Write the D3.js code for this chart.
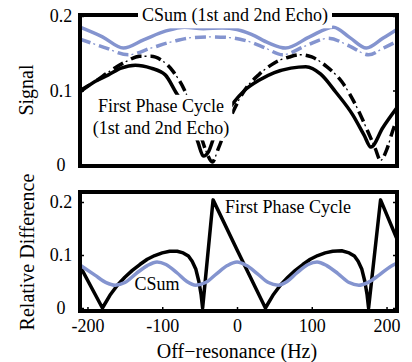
<!DOCTYPE html>
<html>
<head>
<meta charset="UTF-8">
<style>
  body { margin: 0; background: #fff; }
  text { font-family: "Liberation Serif"; }
</style>
</head>
<body>
<script src="https://d3js.org/d3.v7.min.js"></script>
<script>
// ---- data ----
const hzTicks = [-200, -100, 0, 100, 200];
const signalTicks = [0, 0.1, 0.2];
const diffTicks = [0, 0.1, 0.2];

// top panel: CSum, 1st echo (solid) and 2nd echo (dash-dot)
const csum1Hz = [-210, -180, -152, -125, -95, -70, -45, -20, 0, 20, 42, 65, 97, 129, 151, 173, 195, 214];
const csumEcho1 = [0.185, 0.172, 0.157, 0.168, 0.180, 0.185, 0.183, 0.184, 0.182, 0.175, 0.164, 0.157, 0.172, 0.185, 0.171, 0.157, 0.170, 0.182];
const csum2Hz = [-210, -178, -145, -115, -85, -60, -35, -10, 15, 38, 61, 92, 122, 150, 176, 196, 214];
const csumEcho2 = [0.169, 0.158, 0.148, 0.157, 0.166, 0.171, 0.172, 0.171, 0.166, 0.157, 0.148, 0.160, 0.170, 0.160, 0.148, 0.157, 0.166];

// top panel: first phase cycle, 1st echo (solid)
const fpc1Hz = [-210, -190, -172, -155, -136, -115, -96, -82, -70, -60, -52, -45, -38, -30, -20, -6, 10, 30, 50, 72, 92, 112, 132, 155, 170, 179, 195, 214];
const fpcEcho1 = [0.098, 0.112, 0.121, 0.130, 0.134, 0.130, 0.121, 0.098, 0.078, 0.055, 0.030, 0.012, 0.018, 0.040, 0.062, 0.082, 0.100, 0.114, 0.124, 0.130, 0.132, 0.122, 0.098, 0.067, 0.040, 0.024, 0.050, 0.077];
// top panel: first phase cycle, 2nd echo (dash-dot)
const fpc2Hz = [-210, -190, -170, -150, -130, -115, -100, -85, -70, -58, -48, -40, -33, -25, -15, -5, 10, 30, 50, 70, 85, 100, 120, 140, 160, 175, 185, 192, 200, 208, 214];
const fpcEcho2 = [0.100, 0.112, 0.126, 0.138, 0.146, 0.146, 0.140, 0.125, 0.100, 0.070, 0.038, 0.015, 0.004, 0.022, 0.048, 0.072, 0.100, 0.122, 0.137, 0.145, 0.148, 0.145, 0.132, 0.112, 0.078, 0.045, 0.022, 0.006, 0.020, 0.045, 0.062];

// bottom panel: relative difference between echoes
const csumDiffHz = [-210, -190, -175, -163, -150, -135, -120, -107, -95, -80, -67, -55, -42, -27, -13, 0, 13, 27, 42, 55, 67, 80, 95, 107, 120, 135, 150, 163, 175, 190, 205, 214];
const csumDiff = [0.081, 0.062, 0.048, 0.043, 0.048, 0.065, 0.080, 0.087, 0.082, 0.066, 0.050, 0.043, 0.048, 0.065, 0.080, 0.087, 0.080, 0.065, 0.048, 0.043, 0.050, 0.066, 0.082, 0.087, 0.080, 0.065, 0.048, 0.043, 0.048, 0.062, 0.078, 0.085];
const fpcDiffHz = [-210, -180, -170, -160, -150, -140, -130, -120, -110, -100, -90, -80, -72, -65, -60, -55, -51, -48, -46, -32, 0, 38, 48, 58, 68, 78, 88, 98, 108, 118, 128, 140, 150, 157, 162, 167, 171, 174, 176, 192, 214];
const fpcDiff = [0.079, 0, 0.024, 0.043, 0.058, 0.071, 0.082, 0.092, 0.099, 0.104, 0.107, 0.107, 0.104, 0.098, 0.088, 0.073, 0.050, 0.025, 0, 0.204, 0.110, 0, 0.024, 0.043, 0.058, 0.071, 0.082, 0.092, 0.099, 0.104, 0.107, 0.108, 0.104, 0.098, 0.088, 0.073, 0.050, 0.025, 0, 0.204, 0.130];

// ---- layout ----
const W = 412, H = 362;
const blue = "#8494cf";
const FONT = "Liberation Serif";
const left = 80, right = 397;
const top1 = 15, bottom1 = 166;
const top2 = 192, bottom2 = 311;

const x = d3.scaleLinear().domain([-210, 214]).range([left, right]);
const y1 = d3.scaleLinear().domain([0, 0.2]).range([165, 16]);
const y2 = d3.scaleLinear().domain([0, 0.2]).range([308, 202]);

const svg = d3.select("body").append("svg")
  .attr("width", W)
  .attr("height", H);

const defs = svg.append("defs");
defs.append("clipPath").attr("id", "clip1")
  .append("rect").attr("x", left).attr("y", top1).attr("width", right - left).attr("height", bottom1 - top1);
defs.append("clipPath").attr("id", "clip2")
  .append("rect").attr("x", left).attr("y", top2).attr("width", right - left).attr("height", bottom2 - top2);

function pairs(hz, vals) {
  return hz.map((h, i) => [h, vals[i]]);
}

function setFont(sel, size) {
  sel.attr("font-family", FONT)
    .style("font-family", `"${FONT}"`)
    .style("font-size", size + "px")
    .attr("fill", "#000");
}

function drawSolid(g, data, yScale, color, curve) {
  g.append("path")
    .datum(data)
    .attr("fill", "none")
    .attr("stroke", color)
    .attr("stroke-width", 3.5)
    .attr("stroke-linejoin", "round")
    .attr("d", d3.line().x(d => x(d[0])).y(d => yScale(d[1])).curve(curve));
}

// dash-dot: thick dashes plus a thin tick in each gap
function drawDashDot(g, data, yScale, color, curve) {
  const line = d3.line().x(d => x(d[0])).y(d => yScale(d[1])).curve(curve);
  g.append("path")
    .datum(data)
    .attr("fill", "none")
    .attr("stroke", color)
    .attr("stroke-width", 3.5)
    .attr("stroke-dasharray", "11,9")
    .attr("d", line);
  g.append("path")
    .datum(data)
    .attr("fill", "none")
    .attr("stroke", color)
    .attr("stroke-width", 1.3)
    .attr("stroke-dasharray", "0,14,2,4")
    .attr("d", line);
}

function labelBox(tx, ty, lines, size, pad) {
  const grp = svg.append("g");
  const bg = grp.append("rect").attr("fill", "#fff");
  const t = grp.append("text")
    .attr("x", tx)
    .attr("y", ty)
    .attr("text-anchor", "middle");
  setFont(t, size);
  lines.forEach((s, i) => {
    t.append("tspan").attr("x", tx).attr("dy", i === 0 ? "0.35em" : "1.2em").text(s);
  });
  const b = t.node().getBBox();
  bg.attr("x", b.x - pad).attr("y", b.y - pad / 2)
    .attr("width", b.width + 2 * pad).attr("height", b.height + pad);
}

function frame(top, bottom) {
  svg.append("rect")
    .attr("x", left).attr("y", top)
    .attr("width", right - left).attr("height", bottom - top)
    .attr("fill", "none")
    .attr("stroke", "#000")
    .attr("stroke-width", 4);
}

function yAxis(yScale, ticks) {
  const g = svg.append("g")
    .attr("transform", `translate(${left},0)`)
    .call(d3.axisLeft(yScale).tickValues(ticks).tickFormat(d3.format("")).tickSize(-4).tickPadding(0));
  g.attr("font-family", FONT).attr("font-size", 18);
  g.select(".domain").remove();
  g.selectAll(".tick line").attr("stroke", "#000").attr("stroke-width", 1.5);
  const tx = g.selectAll(".tick text")
    .attr("x", 61 - left)
    .attr("text-anchor", "middle");
  setFont(tx, 18);
  // right side ticks
  svg.append("g")
    .attr("transform", `translate(${right},0)`)
    .call(d3.axisRight(yScale).tickValues(ticks).tickFormat("").tickSize(-4))
    .call(a => a.select(".domain").remove())
    .selectAll(".tick line").attr("stroke", "#000").attr("stroke-width", 1.5);
}

function plainText(tx, ty, s, size, rotate) {
  const t = svg.append("text")
    .attr("transform", `translate(${tx},${ty})` + (rotate ? " rotate(-90)" : ""))
    .attr("text-anchor", "middle")
    .attr("dy", "0.35em")
    .text(s);
  setFont(t, size);
}

// ---- top panel ----
const p1 = svg.append("g").attr("clip-path", "url(#clip1)");
drawDashDot(p1, pairs(csum2Hz, csumEcho2), y1, blue, d3.curveMonotoneX);
drawSolid(p1, pairs(csum1Hz, csumEcho1), y1, blue, d3.curveMonotoneX);
drawDashDot(p1, pairs(fpc2Hz, fpcEcho2), y1, "#000", d3.curveMonotoneX);
drawSolid(p1, pairs(fpc1Hz, fpcEcho1), y1, "#000", d3.curveMonotoneX);

frame(top1, bottom1);
yAxis(y1, signalTicks);

labelBox(235, 15, ["CSum (1st and 2nd Echo)"], 18, 4);
labelBox(161, 106, ["First Phase Cycle", "(1st and 2nd Echo)"], 18, 3);
plainText(26, 90, "Signal", 20, true);

// ---- bottom panel ----
const p2 = svg.append("g").attr("clip-path", "url(#clip2)");
drawSolid(p2, pairs(fpcDiffHz, fpcDiff), y2, "#000", d3.curveLinear);
drawSolid(p2, pairs(csumDiffHz, csumDiff), y2, blue, d3.curveMonotoneX);

frame(top2, bottom2);
yAxis(y2, diffTicks);

const xg = svg.append("g")
  .attr("transform", `translate(0,${bottom2})`)
  .call(d3.axisBottom(x).tickValues(hzTicks).tickFormat(d => String(d)).tickSize(-4).tickPadding(3));
xg.attr("font-family", FONT).attr("font-size", 18);
xg.select(".domain").remove();
xg.selectAll(".tick line").attr("stroke", "#000").attr("stroke-width", 1.5);
setFont(xg.selectAll(".tick text").attr("y", 8), 18);

plainText(157, 284, "CSum", 18, false);
plainText(288, 207, "First Phase Cycle", 18, false);
plainText(27, 252, "Relative Difference", 20, true);
plainText(237, 351, "Off\u2212resonance (Hz)", 20, false);
</script>
</body>
</html>
